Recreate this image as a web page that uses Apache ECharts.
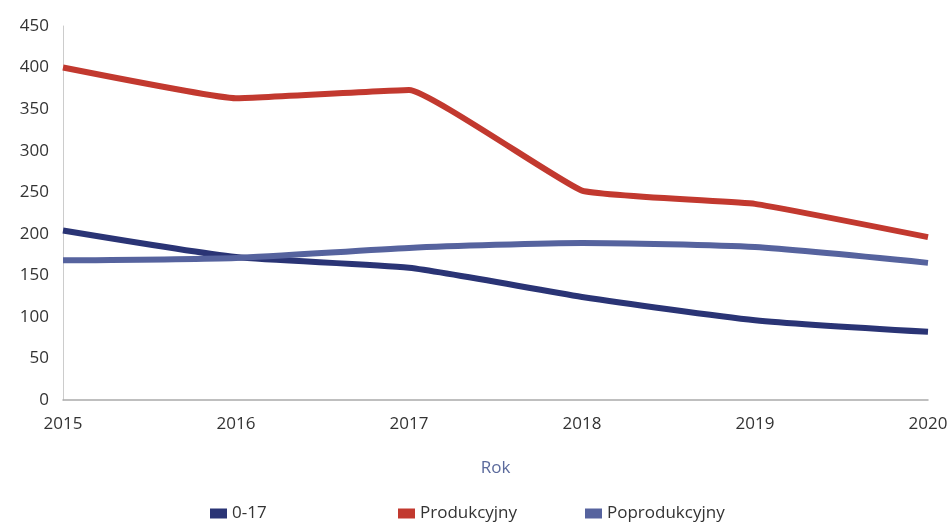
<!DOCTYPE html>
<html><head><meta charset="utf-8">
<script src="https://cdn.jsdelivr.net/npm/echarts@6/dist/echarts.min.js"></script>
<style>html,body{margin:0;padding:0;background:#fff}#c{width:952px;height:524px}</style>
</head><body><div id="c"></div>
<script>
const years = ['2015','2016','2017','2018','2019','2020'];
const s017 = [204, 172, 159, 124, 96, 82];
const sProd = [400, 363, 373, 252, 236, 196];
const sPoprod = [168, 171, 183, 189, 184, 165];
const names = ['0-17','Produkcyjny','Poprodukcyjny'];
const colors = ['#2a3475','#c2392f','#56639e'];
const legendLeft = [205, 393, 580];

const chart = echarts.init(document.getElementById('c'));
const font = '"Open Sans", sans-serif';
chart.setOption({
  animation:false,
  color: colors,
  grid:{left:63, right:24, top:26, bottom:124, containLabel:false},
  legend: names.map((n,i)=>({
    top:500, left:legendLeft[i], itemGap:6, itemWidth:17, itemHeight:10, icon:'rect',
    textStyle:{fontFamily:font, fontSize:17, color:'#333'},
    data:[n]
  })),
  xAxis:{
    type:'category', data:years, boundaryGap:false,
    name:'Rok', nameLocation:'middle', nameGap:60,
    nameTextStyle:{fontFamily:font, fontSize:17, color:'#5b6a9c'},
    axisLine:{lineStyle:{color:'#aaa', width:1.5}},
    axisTick:{show:false},
    axisLabel:{fontFamily:font, fontSize:17, color:'#333', margin:16}
  },
  yAxis:{
    type:'value', min:0, max:450, interval:50,
    axisLine:{show:true, lineStyle:{color:'#ccc'}},
    axisTick:{show:false},
    splitLine:{show:false},
    axisLabel:{fontFamily:font, fontSize:17, color:'#333', margin:14}
  },
  series:[
    {name:names[0], type:'line', data:s017, smooth:0.2, symbol:'none', lineStyle:{width:6}},
    {name:names[1], type:'line', data:sProd, smooth:0.1, symbol:'none', lineStyle:{width:6}},
    {name:names[2], type:'line', data:sPoprod, smooth:0.2, symbol:'none', lineStyle:{width:6}}
  ]
});
</script></body></html>
